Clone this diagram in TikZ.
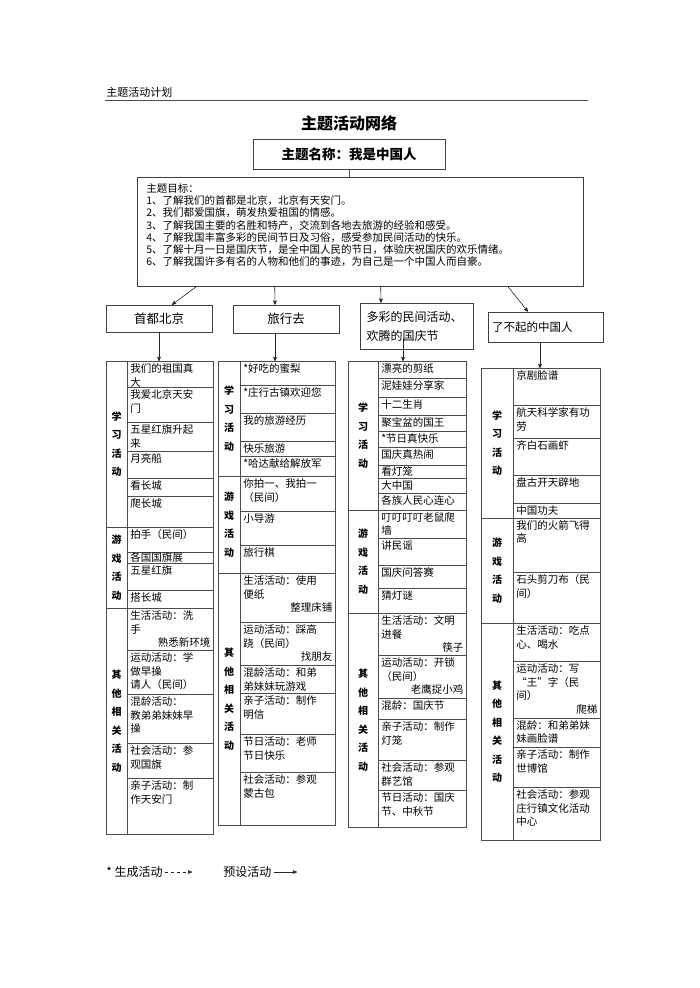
\documentclass[tikz,border=0pt]{standalone}
\usepackage{fontspec}
\setmainfont{Noto Sans CJK SC}
\usetikzlibrary{arrows,calc}

\begin{document}
\begin{tikzpicture}[>=stealth', x=1pt, y=-1pt, line width=0.6pt]
  \tikzstyle{every node}=[inner sep=0pt, text=black]
  \tikzstyle{frame}=[draw=black!75, line width=0.6pt]
  \tikzstyle{grid}=[draw=black!70, line width=0.6pt]
  \tikzstyle{arr}=[->, draw=black!85, line width=0.6pt]
  \tikzstyle{cell}=[anchor=north west, align=left, font=\fontsize{10.5}{13.5}\selectfont]
  \tikzstyle{side}=[align=center, font=\bfseries\fontsize{10}{18.5}\selectfont]
  \tikzstyle{legend}=[anchor=west, font=\fontsize{12}{14}\selectfont]

  \useasboundingbox (0,0) rectangle (700,988);
  \fill[white] (0,0) rectangle (700,988);

  % header
  \node[anchor=west, font=\fontsize{11}{13}\selectfont] (hdr) at (106,92) {主题活动计划};
  \draw[black!70] (105,100) -- (588,100);

  \node[font=\bfseries\fontsize{16}{18}\selectfont] (title) at (349,123) {主题活动网络};
  \node[frame, minimum width=192pt, minimum height=30pt,
        font=\bfseries\fontsize{13.5}{15}\selectfont] (theme) at (349,154) {主题名称：我是中国人};

  % goals
  \node[frame, minimum width=446pt, minimum height=109pt] (goals) at (360,231.5) {};
  \node[anchor=north west, align=left, font=\fontsize{10.5}{12.3}\selectfont] (goaltext) at (146,183)
    {主题目标：\\
     1、了解我们的首都是北京，北京有天安门。\\
     2、我们都爱国旗，萌发热爱祖国的情感。\\
     3、了解我国主要的名胜和特产，交流到各地去旅游的经验和感受。\\
     4、了解我国丰富多彩的民间节日及习俗，感受参加民间活动的快乐。\\
     5、了解十月一日是国庆节，是全中国人民的节日，体验庆祝国庆的欢乐情绪。\\
     6、了解我国许多有名的人物和他们的事迹，为自己是一个中国人而自豪。};
  \draw[grid] (theme.south) -- (theme.south |- goals.north);

  % topics
  \node[frame, minimum width=106pt, minimum height=27pt,
        font=\fontsize{12.5}{14}\selectfont] (box1) at (159,318.5) {首都北京};
  \node[frame, minimum width=106pt, minimum height=28pt,
        font=\fontsize{12.5}{14}\selectfont] (box2) at (286,319) {旅行去};
  \node[frame, minimum width=113pt, minimum height=46pt, text width=100pt, inner xsep=6.5pt,
        align=left, font=\fontsize{12}{19}\selectfont] (box3) at (416.5,326) {多彩的民间活动、\\欢腾的国庆节};
  \node[frame, minimum width=115pt, minimum height=30pt, text width=107pt, inner xsep=4pt,
        align=left, font=\fontsize{11.5}{13}\selectfont] (box4) at (545.5,327) {了不起的中国人};

  \draw[arr] ([xshift=60pt]goals.south west) -- ([xshift=13pt]box1.north);
  \draw[arr] ([xshift=138pt]goals.south west) -- ([xshift=-11pt]box2.north);
  \draw[arr] ([xshift=244pt]goals.south west) -- ([xshift=-35.5pt]box3.north);
  \draw[arr] ([xshift=371pt]goals.south west) -- ([xshift=-17.5pt]box4.north);

  \coordinate (tab1) at (159,361);
  \coordinate (tab2) at (275,361);
  \coordinate (tab3) at (403,361);
  \coordinate (tab4) at (540,368);
  \draw[arr] (box1.south) -- (tab1);
  \draw[arr] (box2.south -| tab2) -- (tab2);
  \draw[arr] ($(tab3 |- box3.center)+(0,12)$) -- (tab3);
  \draw[arr] (box4.south -| tab4) -- (tab4);

  % column 1
  \draw[grid] (106,361) rectangle (213,834);
  \draw[grid] (127,361) -- (127,834);
  \draw[grid] (106,527) -- (213,527) (106,608) -- (213,608);
  \foreach \y in {387,422,451,478,496,552,563,590,650,694,743,778}
    \draw[grid] (127,\y) -- (213,\y);
  \node[side] (a-s1) at (116.5,444) {学\\习\\活\\动};
  \node[side] (a-s2) at (116.5,567.5) {游\\戏\\活\\动};
  \node[side] (a-s3) at (116.5,721) {其\\他\\相\\关\\活\\动};
  \begin{scope}[cell/.append style={text width=80pt}]
    \node[cell] (a1) at (130,363.5) {我们的祖国真\\大};
    \node[cell] (a2) at (130,389.5) {我爱北京天安\\门};
    \node[cell] (a3) at (130,424.5) {五星红旗升起\\来};
    \node[cell] (a4) at (130,453.5) {月亮船};
    \node[cell] (a5) at (130,480.5) {看长城};
    \node[cell] (a6) at (130,498.5) {爬长城};
    \node[cell] (a7) at (130,529.5) {拍手（民间）};
    \node[cell] (a8) at (130,552.5) {各国国旗展};
    \node[cell] (a9) at (130,565.5) {五星红旗};
    \node[cell] (a10) at (130,592.5) {搭长城};
    \node[cell] (a11) at (130,610.5) {生活活动：洗\\手\\\hspace*{\fill}熟悉新环境};
    \node[cell] (a12) at (130,652.5) {运动活动：学\\做早操\\请人（民间）};
    \node[cell] (a13) at (130,696.5) {混龄活动：\\教弟弟妹妹早\\操};
    \node[cell] (a14) at (130,745.5) {社会活动：参\\观国旗};
    \node[cell] (a15) at (130,780.5) {亲子活动：制\\作天安门};
  \end{scope}

  % column 2
  \draw[grid] (218,361) rectangle (335,825);
  \draw[grid] (240,361) -- (240,825);
  \draw[grid] (218,476) -- (335,476) (218,573) -- (335,573);
  \foreach \y in {385,413,441,456,511,545,622,665,693,734,772}
    \draw[grid] (240,\y) -- (335,\y);
  \node[side] (b-s1) at (229,418.5) {学\\习\\活\\动};
  \node[side] (b-s2) at (229,524.5) {游\\戏\\活\\动};
  \node[side] (b-s3) at (229,699) {其\\他\\相\\关\\活\\动};
  \begin{scope}[cell/.append style={text width=89pt}]
    \node[cell] (b1) at (243,363.5) {*好吃的蜜梨};
    \node[cell] (b2) at (243,387.5) {*庄行古镇欢迎您};
    \node[cell] (b3) at (243,415.5) {我的旅游经历};
    \node[cell] (b4) at (243,443) {快乐旅游};
    \node[cell] (b5) at (243,458) {*哈达献给解放军};
    \node[cell] (b6) at (243,478.5) {你拍一、我拍一\\（民间）};
    \node[cell] (b7) at (243,513.5) {小导游};
    \node[cell] (b8) at (243,547.5) {旅行棋};
    \node[cell] (b9) at (243,575.5) {生活活动：使用\\便纸\\\hspace*{\fill}整理床铺};
    \node[cell] (b10) at (243,624.5) {运动活动：踩高\\跷（民间）\\\hspace*{\fill}找朋友};
    \node[cell] (b11) at (243,667.5) {混龄活动：和弟\\弟妹妹玩游戏};
    \node[cell] (b12) at (243,695.5) {亲子活动：制作\\明信};
    \node[cell] (b13) at (243,736.5) {节日活动：老师\\节日快乐};
    \node[cell] (b14) at (243,774.5) {社会活动：参观\\蒙古包};
  \end{scope}

  % column 3
  \draw[grid] (348,361) rectangle (466,827);
  \draw[grid] (378,361) -- (378,827);
  \draw[grid] (348,510) -- (466,510) (348,613) -- (466,613);
  \foreach \y in {378,397,415,431,447,465,478,493,538,565,588,655,698,719,760,790}
    \draw[grid] (378,\y) -- (466,\y);
  \node[side] (c-s1) at (363,435.5) {学\\习\\活\\动};
  \node[side] (c-s2) at (363,561.5) {游\\戏\\活\\动};
  \node[side] (c-s3) at (363,720) {其\\他\\相\\关\\活\\动};
  \begin{scope}[cell/.append style={text width=82pt}]
    \node[cell] (c1) at (381,363) {漂亮的剪纸};
    \node[cell] (c2) at (381,380.5) {泥娃娃分享家};
    \node[cell] (c3) at (381,399) {十二生肖};
    \node[cell] (c4) at (381,417) {聚宝盆的国王};
    \node[cell] (c5) at (381,433) {*节日真快乐};
    \node[cell] (c6) at (381,449.5) {国庆真热闹};
    \node[cell] (c7) at (381,466.5) {看灯笼};
    \node[cell] (c8) at (381,480.5) {大中国};
    \node[cell] (c9) at (381,495.5) {各族人民心连心};
    \node[cell] (c10) at (381,512) {叮叮叮叮老鼠爬\\墙};
    \node[cell] (c11) at (381,540.5) {讲民谣};
    \node[cell] (c12) at (381,567.5) {国庆问答赛};
    \node[cell] (c13) at (381,590.5) {猜灯谜};
    \node[cell] (c14) at (381,615.5) {生活活动：文明\\进餐\\\hspace*{\fill}筷子};
    \node[cell] (c15) at (381,657.5) {运动活动：开锁\\（民间）\\\hspace*{\fill}老鹰捉小鸡};
    \node[cell] (c16) at (381,700.5) {混龄：国庆节};
    \node[cell] (c17) at (381,721.5) {亲子活动：制作\\灯笼};
    \node[cell] (c18) at (381,762.5) {社会活动：参观\\群艺馆};
    \node[cell] (c19) at (381,792.5) {节日活动：国庆\\节、中秋节};
  \end{scope}

  % column 4
  \draw[grid] (481,368) rectangle (600,840);
  \draw[grid] (513,368) -- (513,840);
  \draw[grid] (481,518) -- (600,518) (481,623) -- (600,623);
  \foreach \y in {405,438,475,503,572,661,718,747,787}
    \draw[grid] (513,\y) -- (600,\y);
  \node[side] (d-s1) at (497,443) {学\\习\\活\\动};
  \node[side] (d-s2) at (497,570.5) {游\\戏\\活\\动};
  \node[side] (d-s3) at (497,731.5) {其\\他\\相\\关\\活\\动};
  \begin{scope}[cell/.append style={text width=81pt}]
    \node[cell] (d1) at (516,370.5) {京剧脸谱};
    \node[cell] (d2) at (516,407.5) {航天科学家有功\\劳};
    \node[cell] (d3) at (516,440.5) {齐白石画虾};
    \node[cell] (d4) at (516,477.5) {盘古开天辟地};
    \node[cell] (d5) at (516,505) {中国功夫};
    \node[cell] (d6) at (516,520) {我们的火箭飞得\\高};
    \node[cell] (d7) at (516,574.5) {石头剪刀布（民\\间）};
    \node[cell] (d8) at (516,625.5) {生活活动：吃点\\心、喝水};
    \node[cell] (d9) at (516,663.5) {运动活动：写\\“王”字（民\\间）\\\hspace*{\fill}爬梯};
    \node[cell] (d10) at (516,720) {混龄：和弟弟妹\\妹画脸谱};
    \node[cell] (d11) at (516,749.5) {亲子活动：制作\\世博馆};
    \node[cell] (d12) at (516,789.5) {社会活动：参观\\庄行镇文化活动\\中心};
  \end{scope}

  % legend
  \node[legend] (gen) at (106,872) {* 生成活动};
  \coordinate (genend) at (192,872);
  \draw[arr, dashed] ([xshift=2pt]gen.east) -- (genend);
  \node[legend] (pre) at (223,872) {预设活动};
  \coordinate (preend) at (297,872);
  \draw[arr] ([xshift=2pt]pre.east) -- (preend);
\end{tikzpicture}
\end{document}
